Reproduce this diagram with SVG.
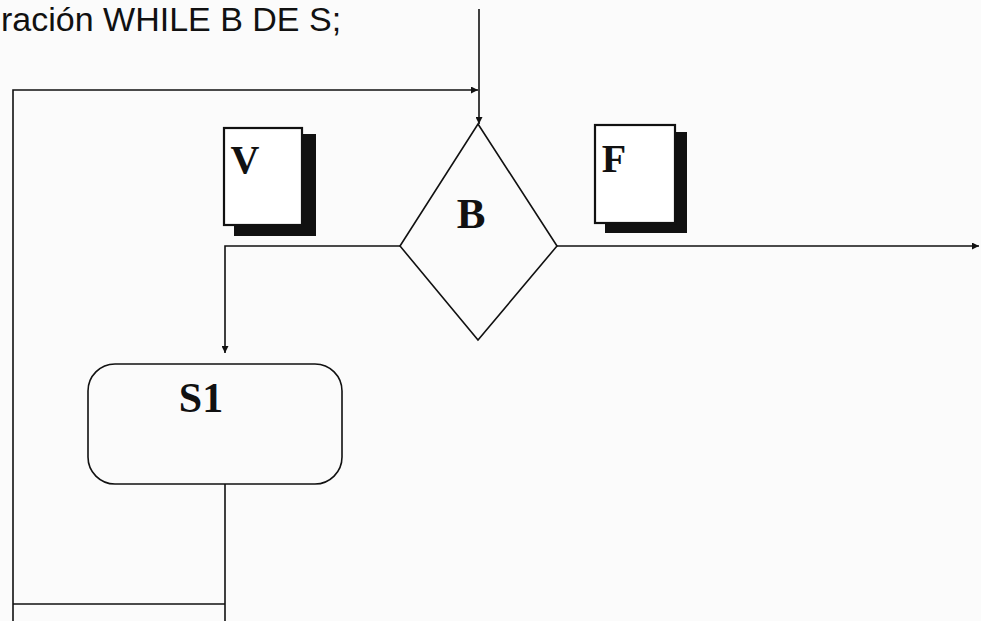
<svg xmlns="http://www.w3.org/2000/svg" width="981" height="621" viewBox="0 0 981 621">
<style>
.ln{fill:none;stroke:#111;stroke-width:1.6}
.box{fill:#fff;stroke:#111;stroke-width:2.2}
.sh{fill:#111}
.lbl{font-family:"Liberation Serif",serif;font-weight:bold;fill:#111}
.title{font-family:"Liberation Sans",Arial,sans-serif;font-size:34px;fill:#111}
</style>
<defs>
<marker id="ar" viewBox="0 0 10 10" refX="10" refY="5" markerWidth="7" markerHeight="7" markerUnits="userSpaceOnUse" orient="auto">
<path d="M0,0 L10,5 L0,10 z" fill="#111"/>
</marker>
</defs>
<rect width="981" height="621" fill="#fbfbfb"/>
<text class="title" x="1" y="31">ración WHILE B DE S;</text>
<g id="connectors">
<path class="ln" d="M479,9 V124" marker-end="url(#ar)"/>
<path class="ln" d="M13,621 V90 H478" marker-end="url(#ar)"/>
<path class="ln" d="M400,246 H225 V353" marker-end="url(#ar)"/>
<path class="ln" d="M557,246 H979" marker-end="url(#ar)"/>
<path class="ln" d="M225,484 V621"/>
<path class="ln" d="M13,604 H225"/>
</g>
<g id="cond-B">
<polygon class="ln" points="478,124 557,246 478,340 400,246"/>
<text class="lbl" x="471" y="228" font-size="43" text-anchor="middle">B</text>
</g>
<g id="label-V">
<rect class="sh" x="234" y="134" width="82" height="102"/>
<rect class="box" x="224" y="128" width="78" height="97"/>
<text class="lbl" x="245" y="173" font-size="40" text-anchor="middle">V</text>
</g>
<g id="label-F">
<rect class="sh" x="605" y="132" width="82" height="101"/>
<rect class="box" x="595" y="125" width="80" height="98"/>
<text class="lbl" x="614" y="172" font-size="40" text-anchor="middle">F</text>
</g>
<g id="S1">
<rect class="ln" x="88" y="364" width="254" height="120" rx="27" ry="27"/>
<text class="lbl" x="201" y="412" font-size="42" text-anchor="middle">S1</text>
</g>
</svg>
